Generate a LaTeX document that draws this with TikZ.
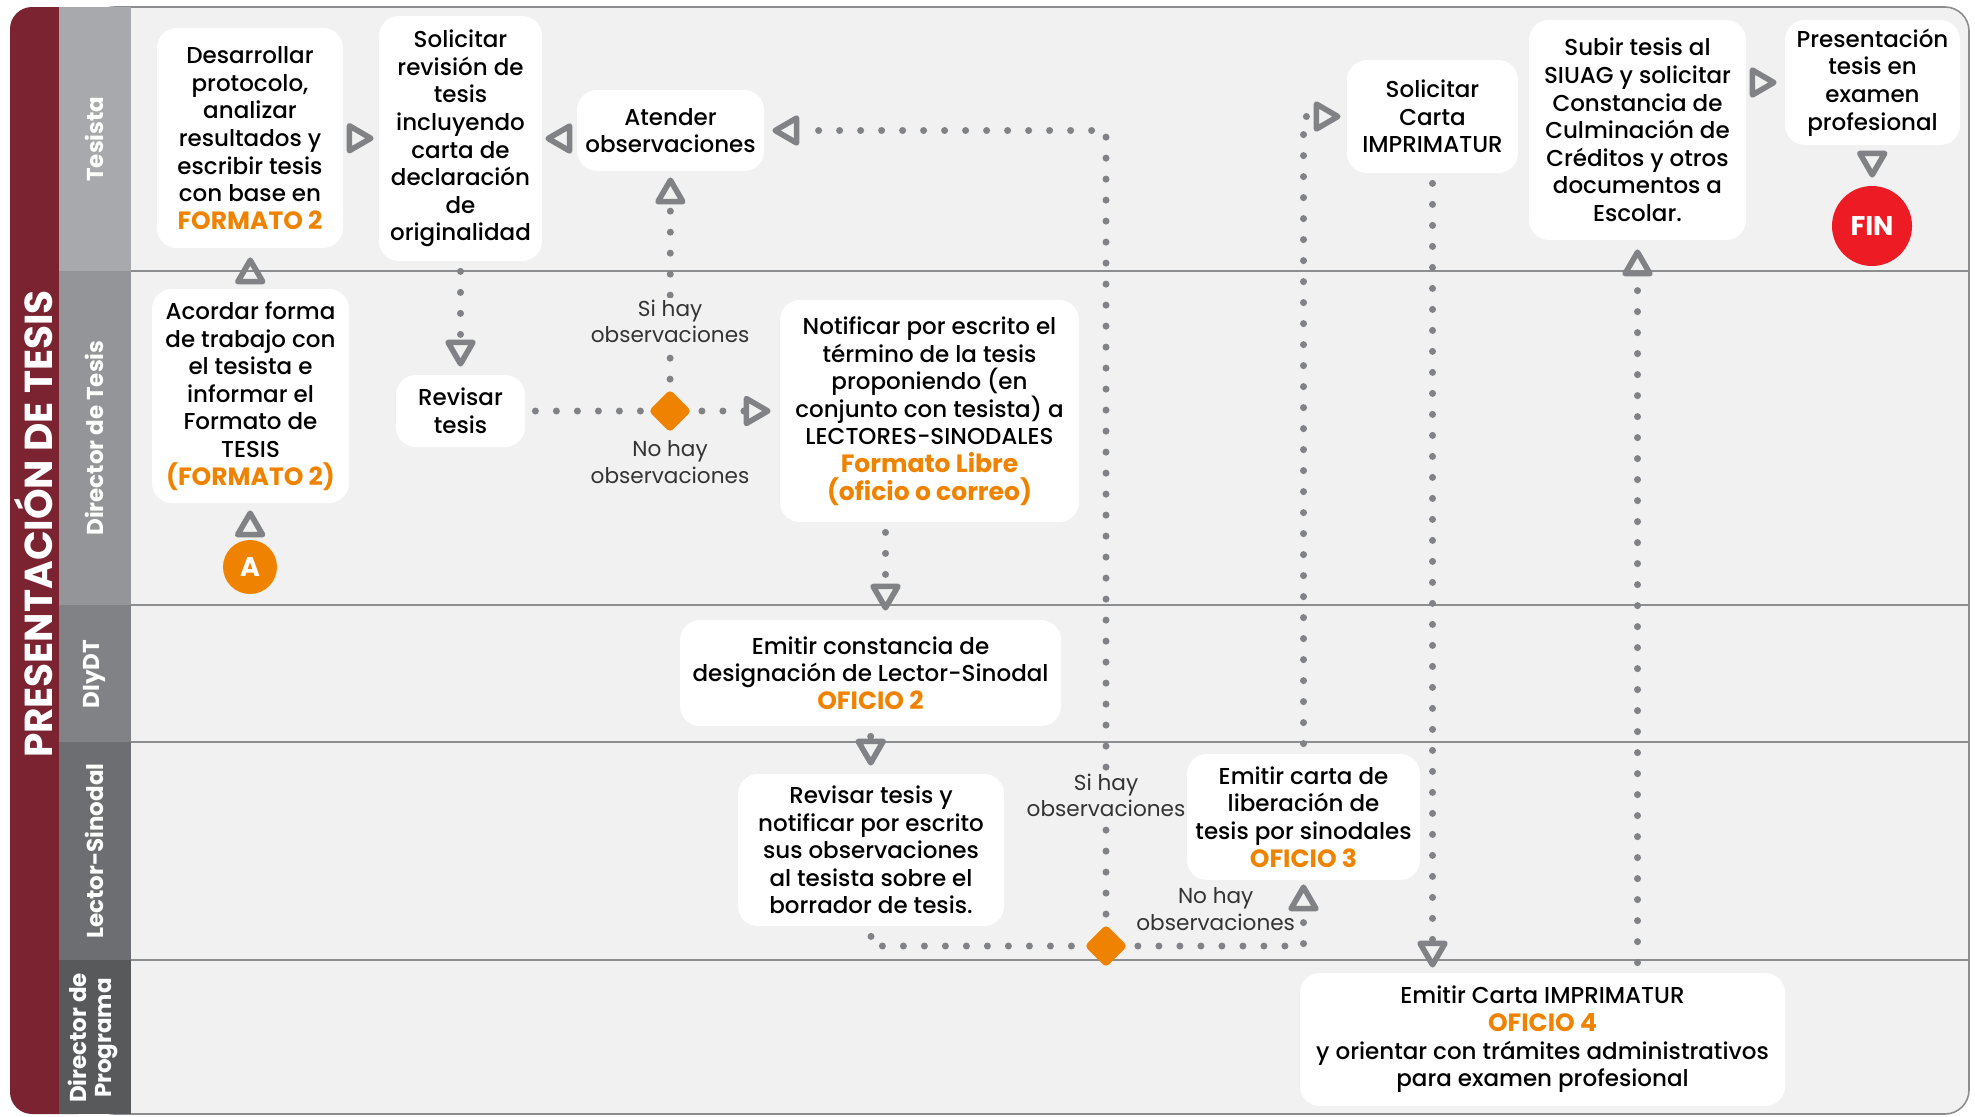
\documentclass[tikz,border=0pt]{standalone}
\usepackage{fontspec}
\setmainfont{Poppins}[UprightFont=* Medium, BoldFont=* Bold]
\newfontfamily\bookfont{Poppins}
\usepackage{tikz}
\usetikzlibrary{arrows.meta, positioning, shapes.geometric, calc}

\definecolor{guinda}{RGB}{123,35,49}
\definecolor{fondo}{RGB}{240,241,240}
\definecolor{naranja}{RGB}{239,131,0}
\definecolor{rojo}{RGB}{237,28,36}
\definecolor{punto}{RGB}{128,130,133}
\definecolor{linea}{RGB}{140,141,143}
\definecolor{carrilA}{RGB}{167,169,172}
\definecolor{carrilB}{RGB}{147,149,152}
\definecolor{carrilC}{RGB}{128,130,133}
\definecolor{carrilD}{RGB}{109,110,113}
\definecolor{carrilE}{RGB}{88,89,91}

\newcommand{\ofi}[1]{{\color{naranja}\bfseries\fontsize{12.5}{14}\selectfont #1}}

\begin{document}
\begin{tikzpicture}[x=0.5pt, y=-0.5pt,
    card/.style={fill=white, rounded corners=10pt, align=center, inner sep=2pt,
      font=\fontsize{11.5}{13.8}\selectfont},
    lbl/.style={align=center, text=black!80, inner sep=1pt,
      font=\bookfont\fontsize{10.8}{13.2}\selectfont},
    lane/.style={rotate=90, text=white, align=center,
      font=\bfseries\fontsize{11.5}{12.5}\selectfont},
    decision/.style={diamond, fill=naranja, minimum size=21.5pt, inner sep=0pt, rounded corners=2pt},
    terminal/.style={circle, text=white, inner sep=0pt, font=\bfseries\fontsize{13.5}{15}\selectfont},
    dotline/.style={draw=punto, line width=3.5pt, line cap=round, dash pattern=on 0pt off 10.5pt,
      shorten <=5pt},
    hop/.style={draw=punto, ->, dash pattern=on 0pt off 200pt, line cap=butt},
    >={Triangle[open, round, length=15pt, width=16.5pt, line width=2.8pt]}]
    \useasboundingbox (0,0) rectangle (1975,1116);

    % Frame
    \fill[guinda, rounded corners=11pt] (10,7) rectangle (100,1114);
    \filldraw[fill=fondo, draw=linea, line width=0.8pt, rounded corners=12pt] (90,7) rectangle (1969,1114);
    \node[rotate=90, text=white, font=\bfseries\fontsize{19.5}{22}\selectfont] (titulo) at (34,524) {PRESENTACIÓN DE TESIS};

    % Lanes
    \fill[carrilA] (59,7) rectangle (131,271);
    \fill[carrilB] (59,271) rectangle (131,605);
    \fill[carrilC] (59,605) rectangle (131,742);
    \fill[carrilD] (59,742) rectangle (131,960);
    \fill[carrilE] (59,960) rectangle (131,1114);
    \draw[linea, line width=1pt] (131,271) -- (1969,271);
    \draw[linea, line width=1pt] (131,605) -- (1969,605);
    \draw[linea, line width=1pt] (131,742) -- (1969,742);
    \draw[linea, line width=1pt] (131,960) -- (1969,960);
    \node[lane] (tesista) at (94,139) {Tesista};
    \node[lane] (directesis) at (94,438) {Director de Tesis};
    \node[lane] (diydt) at (94,674) {DIyDT};
    \node[lane] (lector) at (94,851) {Lector-Sinodal};
    \node[lane] (dirprog) at (93,1038) {Director de\\Programa};

    % Tesista
    \node[card, minimum width=93pt, minimum height=110pt] (desarrollar) at (250,138)
      {Desarrollar\\protocolo,\\analizar\\resultados y\\escribir tesis\\con base en\\\ofi{FORMATO 2}};
    \node[card, minimum width=81.5pt, minimum height=122.5pt] (solicitar) at (460.5,138.5)
      {Solicitar\\revisión de\\tesis\\incluyendo\\carta de\\declaración\\de\\originalidad};
    \node[card, minimum width=93.5pt, minimum height=40.5pt] (atender) at (670.5,130.5)
      {Atender\\observaciones};
    \node[card, minimum width=85.5pt, minimum height=56.5pt] (carta) at (1432.5,116.5)
      {Solicitar\\Carta\\IMPRIMATUR};
    \node[card, minimum width=108.5pt, minimum height=110pt] (subir) at (1637.5,130)
      {Subir tesis al\\SIUAG y solicitar\\Constancia de\\Culminación de\\Créditos y otros\\documentos a\\Escolar.};
    \node[card, minimum width=87.5pt, minimum height=62.5pt] (examen) at (1872.5,82.5)
      {Presentación\\tesis en\\examen\\profesional};
    \node[terminal, fill=rojo, minimum size=40pt] (fin) at (1872,226) {FIN};

    % Director de Tesis
    \node[terminal, fill=naranja, minimum size=27pt] (inicio) at (250,567) {A};
    \node[card, minimum width=98.5pt, minimum height=107pt] (acordar) at (250.5,396)
      {Acordar forma\\de trabajo con\\el tesista e\\informar el\\Formato de\\TESIS\\\ofi{(FORMATO 2)}};
    \node[card, minimum width=64.5pt, minimum height=36pt] (revisar) at (460.5,411)
      {Revisar\\tesis};
    \node[decision] (decision1) at (670,411) {};
    \node[lbl] (nohay1) at (670,462) {No hay\\observaciones};
    \node[card, minimum width=149.5pt, minimum height=111pt] (notificar) at (929.5,411)
      {Notificar por escrito el\\término de la tesis\\proponiendo (en\\conjunto con tesista) a\\LECTORES-SINODALES\\\ofi{Formato Libre}\\\ofi{(oficio o correo)}};

    % DIyDT
    \node[card, minimum width=190.5pt, minimum height=53pt] (constancia) at (870.5,673)
      {Emitir constancia de\\designación de Lector-Sinodal\\\ofi{OFICIO 2}};

    % Lector-Sinodal
    \node[card, minimum width=133pt, minimum height=76pt] (revtesis) at (871,850)
      {Revisar tesis y\\notificar por escrito\\sus observaciones\\al tesista sobre el\\borrador de tesis.};
    \node[decision] (decision2) at (1106,946) {};
    \node[card, minimum width=116.5pt, minimum height=63pt] (liberacion) at (1303.5,817)
      {Emitir carta de\\liberación de\\tesis por sinodales\\\ofi{OFICIO 3}};

    % Director de Programa
    \node[card, minimum width=242.5pt, minimum height=66.5pt] (imprimatur) at (1542.5,1039.5)
      {Emitir Carta IMPRIMATUR\\\ofi{OFICIO 4}\\y orientar con trámites administrativos\\para examen profesional};

    % Flow
    \draw[hop, shorten >=3.5pt] (inicio) -- (acordar);
    \draw[hop, shorten >=4.5pt] (acordar) -- (desarrollar);
    \draw[hop, shorten >=2.5pt] (desarrollar) -- (solicitar);
    \draw[hop, shorten >=1.5pt] (atender.west |- solicitar.east) -- (solicitar.east);
    \draw[dotline, ->, shorten >=4pt] (solicitar) -- (revisar);
    \draw[dotline] (revisar) -- (decision1);
    \draw[dotline, ->, shorten >=3pt] (decision1) -- (atender)
      node[lbl, fill=fondo, pos=0.31] {Si hay\\observaciones};
    \draw[dotline, ->, shorten >=4.5pt] (decision1) -- (notificar);
    \draw[dotline, ->, shorten >=4.5pt] ([xshift=-22pt]notificar.south) -- ([xshift=-22pt]notificar.south |- constancia.north);
    \draw[dotline, ->, shorten >=4pt] (constancia) -- (revtesis);
    \draw[dotline] (revtesis) |- (decision2);
    \draw[dotline, ->, shorten >=4pt] (decision2) |- (atender)
      node[lbl, fill=fondo, pos=0.081] {Si hay\\observaciones};
    \draw[dotline, ->, shorten >=2pt] (decision2) -| (liberacion)
      node[lbl, pos=0.25, above=5pt] {No hay\\observaciones};
    \draw[dotline, ->, shorten >=3pt] (liberacion) |- (carta);
    \draw[dotline, ->, shorten >=2.5pt] (carta) -- (carta.south |- imprimatur.north);
    \draw[dotline, ->, shorten >=4.5pt] (subir.south |- imprimatur.north) -- (subir);
    \draw[hop, shorten >=4pt] (subir.east |- examen.west) -- (examen);
    \draw[hop, shorten >=4pt] (examen) -- (fin);
\end{tikzpicture}
\end{document}
